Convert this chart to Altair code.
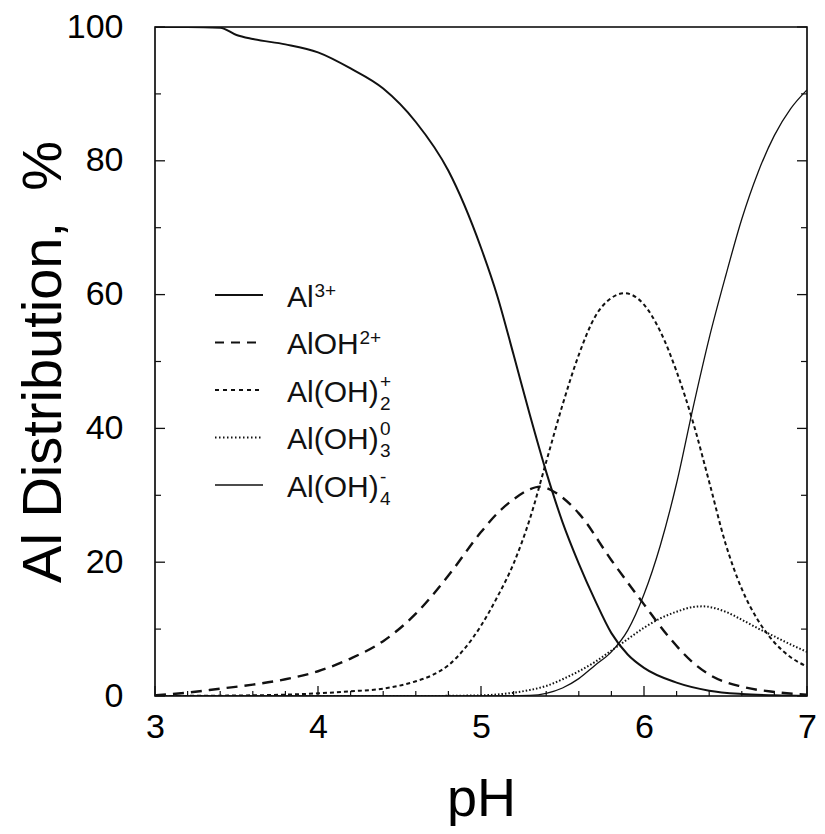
import altair as alt
import pandas as pd

# ---------------- data ----------------
al3_ph = [3.0, 3.2, 3.4, 3.5, 3.6, 3.8, 4.0, 4.2, 4.4, 4.6, 4.8, 5.0, 5.1, 5.2, 5.3, 5.4,
          5.5, 5.6, 5.7, 5.8, 5.9, 6.0, 6.2, 6.4, 6.6, 6.8, 7.0]
al3_pct = [100, 100, 99.9, 98.8, 98.2, 97.4, 96.2, 93.8, 90.8, 85.8, 78.5, 67.0, 59.8, 51.0, 42.0, 33.5,
           26.0, 19.8, 14.3, 9.4, 6.2, 4.2, 2.0, 0.8, 0.3, 0.1, 0.0]

aloh_ph = [3.0, 3.2, 3.4, 3.6, 3.8, 4.0, 4.2, 4.4, 4.6, 4.8, 5.0, 5.1, 5.2, 5.3, 5.36, 5.45,
           5.6, 5.8, 6.0, 6.15, 6.3, 6.4, 6.6, 6.8, 7.0]
aloh_pct = [0.1, 0.5, 1.1, 1.7, 2.5, 3.7, 5.6, 8.2, 12.3, 18.0, 24.5, 27.3, 29.4, 30.9, 31.3, 30.5,
            27.3, 20.3, 13.7, 8.9, 5.0, 3.2, 1.4, 0.6, 0.2]

aloh2_ph = [3.0, 3.6, 3.8, 4.0, 4.2, 4.4, 4.6, 4.7, 4.8, 4.9, 5.0, 5.1, 5.2, 5.3, 5.4, 5.5,
            5.6, 5.7, 5.8, 5.88, 6.0, 6.1, 6.2, 6.3, 6.4, 6.5, 6.6, 6.7, 6.8, 6.9, 7.0]
aloh2_pct = [0.0, 0.1, 0.2, 0.4, 0.7, 1.1, 2.2, 3.1, 4.6, 7.1, 10.5, 14.8, 19.8, 26.5, 35.0, 43.5,
             51.0, 56.7, 59.5, 60.2, 58.5, 54.5, 48.5, 41.0, 32.0, 22.8, 16.0, 11.3, 8.0, 5.8, 4.4]

aloh3_ph = [3.0, 4.6, 5.0, 5.2, 5.3, 5.4, 5.5, 5.6, 5.7, 5.8, 5.9, 6.0, 6.1, 6.2, 6.3, 6.36,
            6.5, 6.6, 6.7, 6.8, 6.9, 7.0]
aloh3_pct = [0.0, 0.0, 0.1, 0.5, 0.9, 1.5, 2.5, 3.7, 5.1, 6.8, 8.5, 10.2, 11.6, 12.6, 13.3, 13.4,
             12.6, 11.4, 10.1, 8.9, 7.7, 6.6]

aloh4_ph = [3.0, 5.0, 5.3, 5.4, 5.5, 5.6, 5.7, 5.8, 5.9, 6.0, 6.1, 6.2, 6.3, 6.4, 6.5, 6.6,
            6.7, 6.8, 6.9, 7.0]
aloh4_pct = [0.0, 0.0, 0.1, 0.4, 1.2, 2.6, 4.6, 6.6, 9.8, 15.2, 22.5, 31.8, 43.0, 53.5, 62.7, 71.3,
             78.3, 83.8, 87.8, 90.6]

x_major = [3, 4, 5, 6, 7]
x_minor = [3.2, 3.4, 3.6, 3.8, 4.2, 4.4, 4.6, 4.8, 5.2, 5.4, 5.6, 5.8, 6.2, 6.4, 6.6, 6.8]
y_major = [0, 20, 40, 60, 80, 100]
y_minor = [10, 30, 50, 70, 90]

legend_main = ["Al", "AlOH", "Al(OH)", "Al(OH)", "Al(OH)"]
legend_sup = ["3+", "2+", "+", "0", "-"]
legend_sub = ["", "", "2", "3", "4"]

# ---------------- styling ----------------
FONT = "Liberation Sans"
INK = "#111111"
W, H = 652, 669
XS = alt.Scale(domain=[3, 7], nice=False, zero=False)
YS = alt.Scale(domain=[0, 100], nice=False, zero=False)

AX = alt.Axis(
    values=x_major, format="d", title="pH", tickSize=0, domain=False, grid=False,
    labelFont=FONT, labelFontSize=34, labelColor="black", labelPadding=14,
    labelFlush=False, labelOverlap=False,
    titleFont=FONT, titleFontSize=54, titleFontWeight="normal", titleColor="black",
    titleX=W / 2, titleY=119, titleAlign="center", titleBaseline="alphabetic")
AY = alt.Axis(
    values=y_major, format="d", title="Al Distribution,\u00a0\u00a0%", tickSize=0,
    domain=False, grid=False,
    labelFont=FONT, labelFontSize=34, labelColor="black", labelPadding=32,
    labelFlush=False, labelOverlap=False,
    titleFont=FONT, titleFontSize=56, titleFontWeight="normal", titleColor="black",
    titleX=-95, titleY=H / 2, titleAlign="center", titleBaseline="alphabetic")

def xenc():
    return alt.X("pH:Q", scale=XS, axis=AX)

def yenc():
    return alt.Y("pct:Q", scale=YS, axis=AY)

styles = [
    dict(strokeWidth=2.0),
    dict(strokeWidth=2.4, strokeDash=[11, 7]),
    dict(strokeWidth=2.0, strokeDash=[4, 3]),
    dict(strokeWidth=2.0, strokeDash=[1.5, 2]),
    dict(strokeWidth=1.3),
]
legend_styles = [
    dict(strokeWidth=2.0),
    dict(strokeWidth=2.2, strokeDash=[9, 7]),
    dict(strokeWidth=1.8, strokeDash=[4, 4]),
    dict(strokeWidth=1.8, strokeDash=[1.5, 2.5]),
    dict(strokeWidth=1.3),
]

series = [(al3_ph, al3_pct), (aloh_ph, aloh_pct), (aloh2_ph, aloh2_pct),
          (aloh3_ph, aloh3_pct), (aloh4_ph, aloh4_pct)]

layers = []

# curves (carry both axes)
for (ph, pct), st in zip(series, styles):
    df = pd.DataFrame({"pH": ph, "pct": pct})
    layers.append(
        alt.Chart(df).mark_line(interpolate="monotone", color=INK, clip=True, **st).encode(
            x=xenc(), y=yenc()))

# inner ticks
layers.append(alt.Chart(pd.DataFrame({"pH": x_major})).mark_rule(color=INK, strokeWidth=1.3).encode(
    x=xenc(), y=alt.value(H), y2=alt.value(H - 10)))
layers.append(alt.Chart(pd.DataFrame({"pH": x_minor})).mark_rule(color=INK, strokeWidth=1.2).encode(
    x=xenc(), y=alt.value(H), y2=alt.value(H - 5)))
for xpos, sgn in [(0, 1), (W, -1)]:
    layers.append(alt.Chart(pd.DataFrame({"pct": y_major})).mark_rule(color=INK, strokeWidth=1.3).encode(
        y=yenc(), x=alt.value(xpos), x2=alt.value(xpos + sgn * 10)))
    layers.append(alt.Chart(pd.DataFrame({"pct": y_minor})).mark_rule(color=INK, strokeWidth=1.2).encode(
        y=yenc(), x=alt.value(xpos), x2=alt.value(xpos + sgn * 6)))

# hand-built legend (superscripts/subscripts need separate text pieces)
row_center = [269, 316.5, 364, 411.5, 459]
main_w = {"Al": 27.5, "AlOH": 72.5, "Al(OH)": 93}
for i in range(5):
    c = row_center[i]
    one = alt.Data(values=[{"t": legend_main[i]}])
    layers.append(alt.Chart(one).mark_rule(color=INK, **legend_styles[i]).encode(
        x=alt.value(60), x2=alt.value(108), y=alt.value(c - 1)))
    base = c + 10.5
    layers.append(alt.Chart(one).mark_text(
        font=FONT, fontSize=30, align="left", baseline="alphabetic", color=INK).encode(
        text="t:N", x=alt.value(132), y=alt.value(base)))
    sx = 132 + main_w[legend_main[i]]
    if legend_sub[i]:
        layers.append(alt.Chart(alt.Data(values=[{"t": legend_sub[i]}])).mark_text(
            font=FONT, fontSize=19, align="left", baseline="alphabetic", color=INK).encode(
            text="t:N", x=alt.value(sx), y=alt.value(base + 8)))
        sup_y = base - 14
    else:
        sup_y = base - 10
    layers.append(alt.Chart(alt.Data(values=[{"t": legend_sup[i]}])).mark_text(
        font=FONT, fontSize=19, align="left", baseline="alphabetic", color=INK).encode(
        text="t:N", x=alt.value(sx), y=alt.value(sup_y)))

chart = alt.layer(*layers).properties(
    width=W, height=H,
    background="white",
    autosize=alt.AutoSizeParams(type="none"),
    padding={"left": 147, "top": 19, "right": 10, "bottom": 130},
).configure_view(stroke="black", strokeWidth=1.6)

chart.save("out.html", embed_options={"renderer": "svg", "actions": False})
